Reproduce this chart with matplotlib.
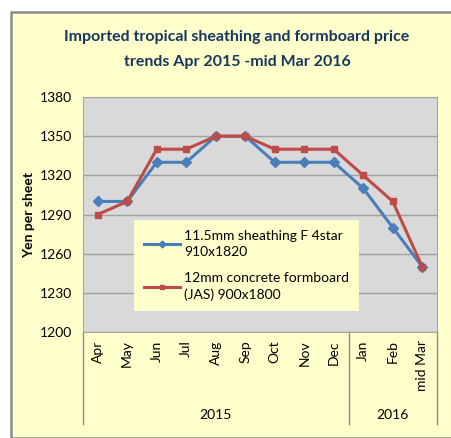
import matplotlib.pyplot as plt
from matplotlib.patches import Rectangle

months = ['Apr', 'May', 'Jun', 'Jul', 'Aug', 'Sep', 'Oct', 'Nov', 'Dec', 'Jan', 'Feb', 'mid Mar']
sheathing = [1300, 1300, 1330, 1330, 1350, 1350, 1330, 1330, 1330, 1310, 1280, 1250]
formboard = [1290, 1300, 1340, 1340, 1350, 1350, 1340, 1340, 1340, 1320, 1300, 1250]
years = ['2015', '2016']
year_counts = [9, 3]
yticks = [1200, 1230, 1260, 1290, 1320, 1350, 1380]

plt.rcParams['font.family'] = ['Lato', 'DejaVu Sans']

W, H = 451, 438
fig = plt.figure(figsize=(W / 100, H / 100), dpi=100)
fig.patch.set_facecolor('white')

# chart area frame
fig.add_artist(Rectangle((10.5 / W, 0), 1, 426 / H, transform=fig.transFigure,
                         facecolor='#FFFFCC', edgecolor='#8C8C8C', linewidth=1.8, zorder=-10))

fig.text(237 / W, 1 - 37 / H, 'Imported tropical sheathing and formboard price',
         ha='center', va='center', fontsize=11.5, fontweight='bold', color='#17375E')
fig.text(237 / W, 1 - 62 / H, 'trends Apr 2015 -mid Mar 2016',
         ha='center', va='center', fontsize=11.5, fontweight='bold', color='#17375E')

left, right, top, bottom = 83, 437, 97, 332
ax = fig.add_axes([left / W, 1 - bottom / H, (right - left) / W, (bottom - top) / H])
ax.set_facecolor('#D9D9D9')

x = list(range(len(months)))
ax.plot(x, sheathing, color='#4A7EBB', linewidth=2.2, marker='D', markersize=5,
        label='11.5mm sheathing F 4star\n910x1820')
ax.plot(x, formboard, color='#BE4B48', linewidth=2.2, marker='s', markersize=5,
        label='12mm concrete formboard\n(JAS) 900x1800')

ax.set_xlim(-0.5, len(months) - 0.5)
ax.set_ylim(1200, 1380)
ax.set_yticks(yticks)
ax.tick_params(axis='y', length=0, labelsize=10, pad=8)
ax.grid(axis='y', color='#A0A0A0', linewidth=1)
ax.set_axisbelow(True)
for s in ax.spines.values():
    s.set_color('#A6A6A6')
ax.set_xticks(x)
ax.set_xticklabels(months, rotation=90, va='top', fontsize=10)
ax.tick_params(axis='x', length=0, pad=6)

# group separators and year labels
ah = bottom - top
ylow = -(424 - bottom) / ah
start = 0
edges = [-0.5]
for yr, n in zip(years, year_counts):
    end = start + n
    edges.append(end - 0.5)
    ax.text((start + end - 1) / 2, -(415 - bottom) / ah, yr, transform=ax.get_xaxis_transform(),
            ha='center', va='center', fontsize=10)
    start = end
for e in edges:
    ax.plot([e, e], [0, ylow], transform=ax.get_xaxis_transform(), color='#8C8C8C',
            linewidth=1, clip_on=False)

ax.set_ylabel('Yen per sheet', fontsize=10, fontweight='bold', labelpad=3)

leg = ax.legend(loc='upper left', bbox_to_anchor=((134 - left) / (right - left), (bottom - 220) / ah),
                frameon=True, facecolor='#FFFFCC', edgecolor='none', framealpha=1, fancybox=False,
                fontsize=10, handlelength=2.6, borderpad=0.7, labelspacing=1.0, handletextpad=0.3,
                borderaxespad=0, markerscale=0.7)
for t in leg.get_texts():
    t.set_linespacing(1.45)

fig.savefig('out.png', dpi=100)
